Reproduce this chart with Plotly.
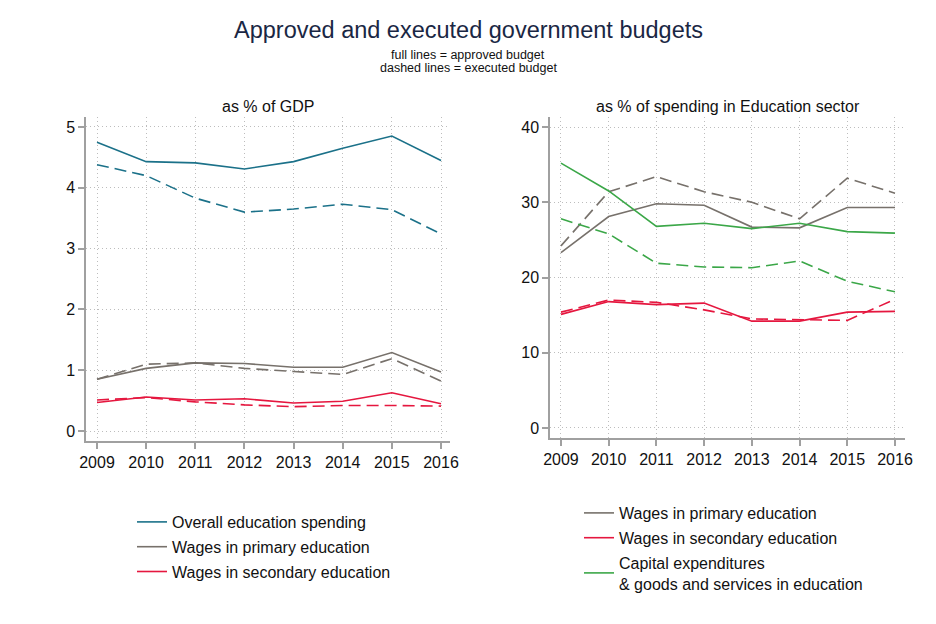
import plotly.graph_objects as go

# ── data ──────────────────────────────────────────────────────────────────
years = [2009, 2010, 2011, 2012, 2013, 2014, 2015, 2016]

# as % of GDP
gdp_overall_appr = [4.75, 4.43, 4.41, 4.31, 4.43, 4.65, 4.85, 4.45]
gdp_overall_exec = [4.38, 4.20, 3.83, 3.60, 3.65, 3.73, 3.64, 3.24]
gdp_primary_appr = [0.85, 1.03, 1.12, 1.11, 1.05, 1.05, 1.29, 0.97]
gdp_primary_exec = [0.85, 1.10, 1.12, 1.03, 0.98, 0.93, 1.19, 0.82]
gdp_second_appr = [0.47, 0.56, 0.51, 0.53, 0.46, 0.49, 0.63, 0.45]
gdp_second_exec = [0.51, 0.55, 0.48, 0.43, 0.40, 0.42, 0.42, 0.41]

# as % of spending in Education sector
sec_primary_appr = [23.3, 28.1, 29.8, 29.6, 26.7, 26.6, 29.3, 29.3]
sec_primary_exec = [24.2, 31.4, 33.4, 31.4, 30.0, 27.8, 33.2, 31.2]
sec_second_appr = [15.1, 16.8, 16.4, 16.6, 14.2, 14.2, 15.4, 15.5]
sec_second_exec = [15.4, 17.0, 16.7, 15.7, 14.5, 14.4, 14.3, 17.1]
sec_capital_appr = [35.2, 31.5, 26.8, 27.2, 26.5, 27.2, 26.1, 25.9]
sec_capital_exec = [27.8, 25.8, 21.9, 21.4, 21.3, 22.2, 19.5, 18.1]

gdp_ticks = [0, 1, 2, 3, 4, 5]
sec_ticks = [0, 10, 20, 30, 40]

# ── styles ────────────────────────────────────────────────────────────────
TEAL = "#1b7189"
GRAY = "#77716b"
RED = "#e5173f"
GREEN = "#3ba748"
DASH = "12px,6px"
FONT = "Liberation Sans, Arial, sans-serif"

# the page puts the plot 8px in from the corner, so pixel spots are shifted back
OFF = 8


def px(x):
    return (x - OFF) / 936


def py(y):
    return 1 - (y - OFF) / 624


fig = go.Figure()


def add_pair(appr, exe, color, name, xa, ya, legend):
    fig.add_trace(go.Scatter(
        x=years, y=appr, mode="lines", name=name,
        line=dict(color=color, width=1.6),
        xaxis=xa, yaxis=ya, legend=legend, legendgroup=legend + name,
    ))
    fig.add_trace(go.Scatter(
        x=years, y=exe, mode="lines", name=name, showlegend=False,
        line=dict(color=color, width=1.6, dash=DASH),
        xaxis=xa, yaxis=ya, legend=legend, legendgroup=legend + name,
    ))


add_pair(gdp_overall_appr, gdp_overall_exec, TEAL, "Overall education spending", "x", "y", "legend")
add_pair(gdp_primary_appr, gdp_primary_exec, GRAY, "Wages in primary education", "x", "y", "legend")
add_pair(gdp_second_appr, gdp_second_exec, RED, "Wages in secondary education", "x", "y", "legend")

add_pair(sec_primary_appr, sec_primary_exec, GRAY, "Wages in primary education", "x2", "y2", "legend2")
add_pair(sec_second_appr, sec_second_exec, RED, "Wages in secondary education", "x2", "y2", "legend2")
add_pair(sec_capital_appr, sec_capital_exec, GREEN,
         "Capital expenditures<br>& goods and services in education", "x2", "y2", "legend2")

axis_common = dict(
    showline=True, linecolor="#a0a0a0", linewidth=1.5,
    ticks="outside", ticklen=6, tickcolor="#a0a0a0", tickwidth=1.5,
    showgrid=True, gridcolor="#bdbdbd", griddash="1px,3px", gridwidth=1,
    zeroline=False, automargin=False,
    tickfont=dict(family=FONT, size=16, color="#111"),
)

legend_common = dict(
    font=dict(family=FONT, size=16, color="#111"),
    bgcolor="rgba(0,0,0,0)", itemwidth=30,
    traceorder="grouped", tracegroupgap=1,
    xanchor="left", yanchor="top", itemclick=False,
)


def text_note(text, x, y, size, color="#111"):
    return dict(text=text, x=px(x), y=py(y), xref="paper", yref="paper",
                showarrow=False, xanchor="center", yanchor="middle",
                font=dict(family=FONT, size=size, color=color))


fig.update_layout(
    width=936, height=624,
    paper_bgcolor="white", plot_bgcolor="white",
    margin=dict(l=0, r=0, t=0, b=0, autoexpand=False),
    font=dict(family=FONT, color="#111"),
    xaxis=dict(axis_common, domain=[px(86), px(450)], range=[2008.776, 2016.183],
               tickvals=years, anchor="y"),
    yaxis=dict(axis_common, domain=[py(441), py(117)], range=[-0.164, 5.164],
               tickvals=gdp_ticks, anchor="x"),
    xaxis2=dict(axis_common, domain=[px(550), px(905)], range=[2008.77, 2016.21],
                tickvals=years, anchor="y2"),
    yaxis2=dict(axis_common, domain=[py(438), py(117)], range=[-1.33, 41.33],
                tickvals=sec_ticks, anchor="x2"),
    legend=dict(legend_common, x=px(132), y=py(505)),
    legend2=dict(legend_common, x=px(579), y=py(496)),
    annotations=[
        text_note("Approved and executed government budgets", 468, 30, 23.5, "#1a2744"),
        text_note("full lines = approved budget", 468, 55.5, 12.5),
        text_note("dashed lines = executed budget", 468, 67.5, 12.5),
        text_note("as % of GDP", 268, 106, 16),
        text_note("as % of spending in Education sector", 728, 106, 16),
    ],
)

fig.write_html("out.html")
